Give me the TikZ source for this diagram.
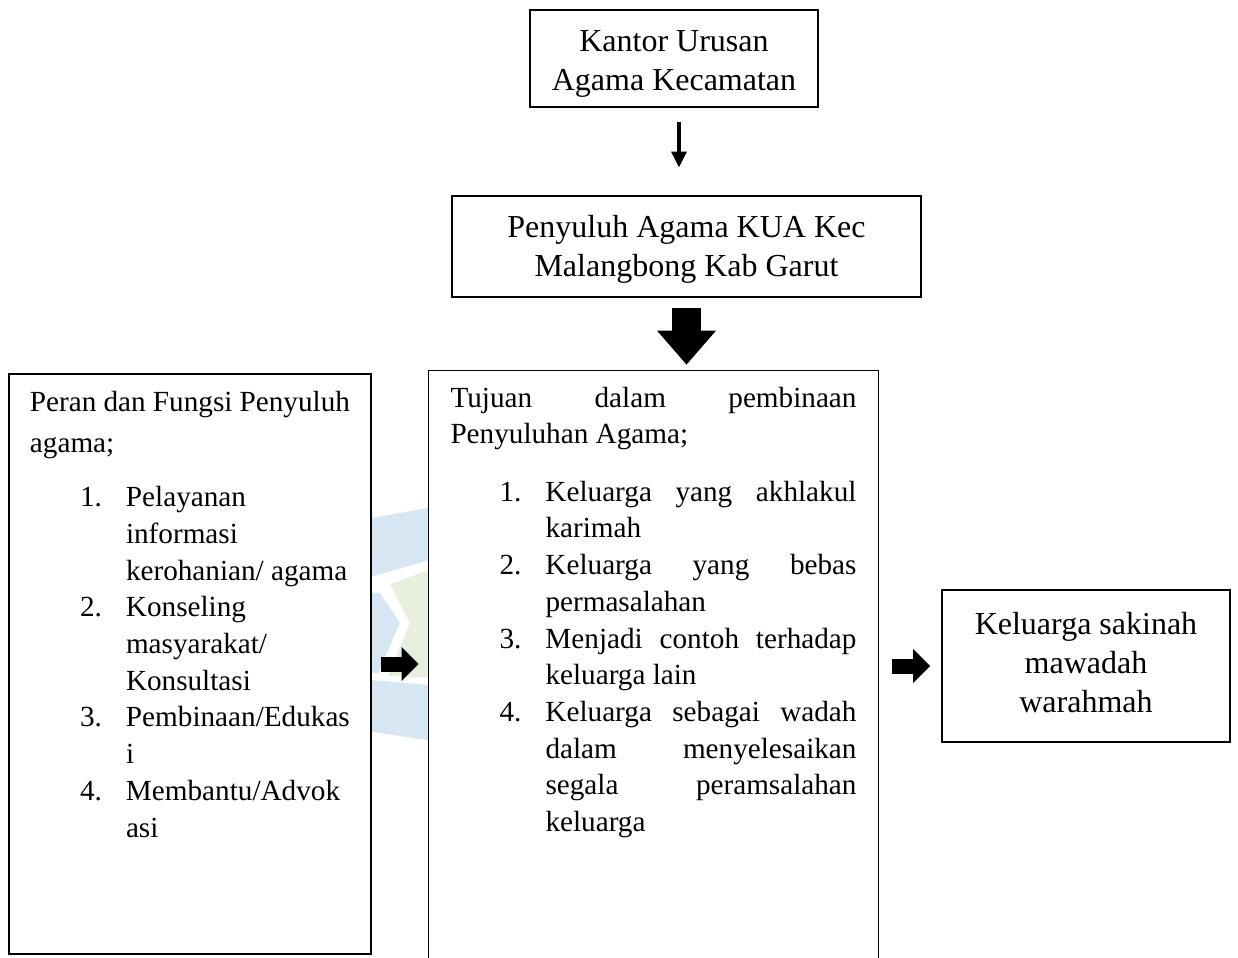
\documentclass[tikz,border=0pt]{standalone}
\usepackage{fontspec}
\setmainfont{Liberation Serif}
\usetikzlibrary{arrows.meta}
\definecolor{wmblue}{HTML}{D7E6F3}
\definecolor{wmgreen}{HTML}{E7F0DC}
\newcommand{\bigtxt}{\fontsize{16pt}{19.5pt}\selectfont}
\newcommand{\smalltxt}{\fontsize{14.6pt}{18.35pt}\selectfont}
\begin{document}
\begin{tikzpicture}[x=0.5pt,y=-0.5pt,
  box/.style={draw=black, line width=0.8pt, fill=white, inner sep=0pt, align=center, font=\bigtxt},
  listbox/.style={fill=white, inner ysep=0pt},
  boxline/.style={draw=black, line width=0.8pt},
  thinarrow/.style={line width=1.7pt, -{Triangle[length=7.8pt,width=8pt,line width=0pt]}},
  fatarrowh/.style={line width=7.5pt, -{Triangle[length=8.5pt,width=17pt,line width=0pt]}},
  fatarrowv/.style={line width=14.75pt, -{Triangle[length=17pt,width=29.5pt,line width=0pt]}}]
\useasboundingbox (0,0) rectangle (1238,958);
% faint watermark
\fill[wmblue] (360,520) -- (440,506) -- (440,557) -- (360,580) -- cycle;
\fill[wmblue] (360,592) -- (380,593) -- (400,623) -- (378,673) -- (360,673) -- cycle;
\fill[wmgreen] (390,584) -- (440,566) -- (440,678) -- (388,676) -- (410,623) -- cycle;
\fill[wmblue] (360,679) -- (440,686) -- (440,742) -- (360,730) -- cycle;
% boxes
\node[box, minimum width=144pt, minimum height=48.5pt] (kua) at (674,58.5) {\rule{0pt}{15.6pt}Kantor Urusan\\Agama Kecamatan};
\node[box, minimum width=234.5pt, minimum height=50.5pt] (peny) at (686.5,246.5) {\rule{0pt}{13.6pt}Penyuluh Agama KUA Kec\\Malangbong Kab Garut};
\node[box, minimum width=144pt, minimum height=76pt] (rbox) at (1086,666) {Keluarga sakinah\\mawadah\\warahmah\rule[-4pt]{0pt}{4pt}};
\node[listbox, boxline, inner xsep=10.5pt] (lbox) at (190,664) {%
\begin{minipage}[c][290pt][t]{160pt}\smalltxt\raggedright
\rule{0pt}{18.5pt}Peran dan Fungsi Penyuluh\\[2.5pt]
agama;\par\vspace{8.65pt}
\noindent\hspace*{25pt}\begin{tabular}[t]{@{}p{23pt}@{}p{113pt}@{}}
1.& Pelayanan\\
  & informasi\\
  & kerohanian/ agama\\
2.& Konseling\\
  & masyarakat/\\
  & Konsultasi\\
3.& Pembinaan/Edukas\\
  & i\\
4.& Membantu/Advok\\
  & asi
\end{tabular}
\end{minipage}};
\node[listbox, inner xsep=10.75pt] (mid) at (653.5,666) {%
\begin{minipage}[c][295pt][t]{203pt}\smalltxt
\noindent\rule{0pt}{18pt}\makebox[\linewidth][s]{Tujuan dalam pembinaan}\\
Penyuluhan Agama;\par\vspace{10.4pt}
\noindent\hspace*{24.5pt}\begin{tabular}[t]{@{}p{23pt}@{}p{155.5pt}@{}}
1.& \makebox[\linewidth][s]{Keluarga yang akhlakul}\\
  & karimah\\
2.& \makebox[\linewidth][s]{Keluarga yang bebas}\\
  & permasalahan\\
3.& \makebox[\linewidth][s]{Menjadi contoh terhadap}\\
  & keluarga lain\\
4.& \makebox[\linewidth][s]{Keluarga sebagai wadah}\\
  & \makebox[\linewidth][s]{dalam menyelesaikan}\\
  & \makebox[\linewidth][s]{segala peramsalahan}\\
  & keluarga
\end{tabular}
\end{minipage}};
\draw[boxline] (mid.south west) -- (mid.north west) -- (mid.north east) -- (mid.south east);
% connectors
\draw[thinarrow] ([xshift=2.5pt,yshift=-7pt]kua.south) -- ([xshift=2.5pt,yshift=14pt]kua.south |- peny.north);
\draw[fatarrowv] ([yshift=-5pt]peny.south) -- ([yshift=3pt]mid.north -| peny.south);
\draw[fatarrowh] ([xshift=4.5pt]lbox.east) -- ([xshift=-5pt]mid.west |- lbox.east);
\draw[fatarrowh] ([xshift=7pt]mid.east |- rbox.west) -- ([xshift=-5.5pt]rbox.west);
\end{tikzpicture}
\end{document}
